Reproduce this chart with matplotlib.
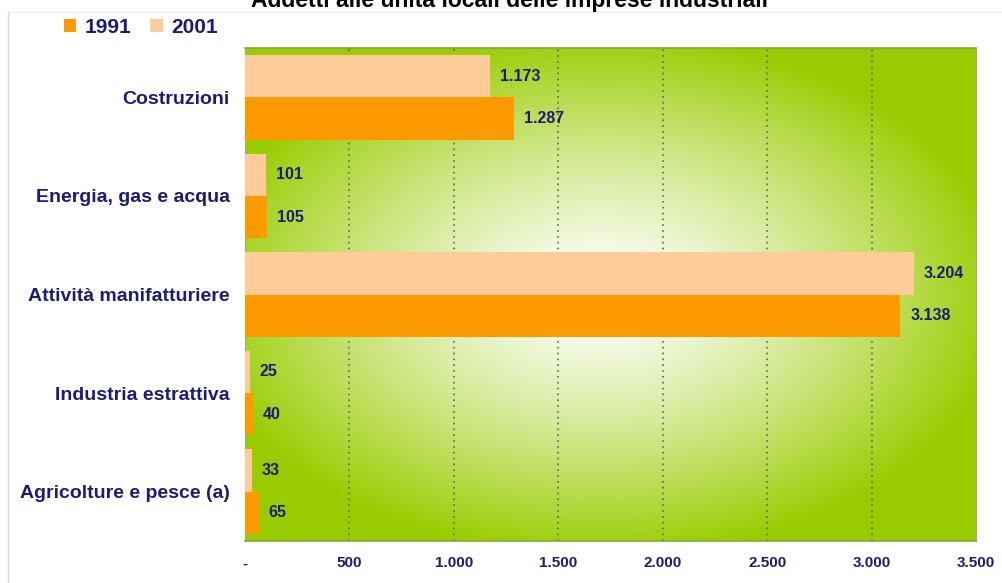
import numpy as np
import matplotlib
matplotlib.use("Agg")
import matplotlib.pyplot as plt
from matplotlib.patches import Patch
from matplotlib.lines import Line2D
from matplotlib.colors import to_rgb

plt.rcParams['font.family'] = ['Liberation Sans', 'DejaVu Sans']

categories = ["Costruzioni", "Energia, gas e acqua", "Attività manifatturiere",
              "Industria estrattiva", "Agricolture e pesce (a)"]
values_1991 = [1287, 105, 3138, 40, 65]
values_2001 = [1173, 101, 3204, 25, 33]
x_ticks = [0, 500, 1000, 1500, 2000, 2500, 3000, 3500]
x_tick_labels = ["-", "500", "1.000", "1.500", "2.000", "2.500", "3.000", "3.500"]

title = "Addetti alle unità locali delle imprese industriali"
c1991 = "#FF9900"
c2001 = "#FFCC99"
navy = "#1C1C78"
green = "#99CC00"

W, H = 1003, 583
fig = plt.figure(figsize=(W / 100, H / 100), dpi=100)
fig.patch.set_facecolor("white")

ax = fig.add_axes([245 / W, 1 - 541 / H, (976 - 245) / W, (541 - 48) / H])

# radial white-to-green backdrop
nx, ny = 400, 280
u = np.linspace(-1, 1, nx)
v = np.linspace(-1, 1, ny)
U, V = np.meshgrid(u, v)
r = np.sqrt((U + 0.03) ** 2 + (V * 1.05) ** 2)
t = np.clip(r / 1.12, 0, 1) ** 1.3
g = np.array(to_rgb(green))
img = (1 - t[..., None]) * np.ones(3) + t[..., None] * g
ax.imshow(img, extent=[0, 1, 0, 1], transform=ax.transAxes, aspect="auto",
          zorder=0, interpolation="bilinear")

y = np.arange(len(categories))
h = 0.43
b01 = ax.barh(y - h / 2, values_2001, height=h, color=c2001, zorder=3)
b91 = ax.barh(y + h / 2, values_1991, height=h, color=c1991, zorder=3)

def fmt(n):
    return f"{n:,}".replace(",", ".")

for bars, vals in ((b01, values_2001), (b91, values_1991)):
    for rect, val in zip(bars, vals):
        ax.annotate(fmt(val), (val, rect.get_y() + rect.get_height() / 2),
                    xytext=(7, 0), textcoords="offset points", va="center",
                    ha="left", fontsize=11.5, fontweight="bold", color=navy,
                    zorder=4)

ax.set_xlim(0, 3500)
ax.set_ylim(len(categories) - 0.5, -0.5)
ax.set_xticks(x_ticks)
ax.set_xticklabels(x_tick_labels)
ax.set_yticks(y)
ax.set_yticklabels(categories)
for lab in ax.get_xticklabels():
    lab.set_fontsize(11)
    lab.set_fontweight("bold")
    lab.set_color(navy)
for lab in ax.get_yticklabels():
    lab.set_fontsize(14)
    lab.set_fontweight("bold")
    lab.set_color(navy)
ax.tick_params(axis="x", length=0, pad=11)
ax.tick_params(axis="y", length=0, pad=11)

for xv in x_ticks[1:-1]:
    ax.axvline(xv, color="#5a6a5a", linestyle=(0, (1, 2.5)), linewidth=1.2,
               zorder=2)

for s in ("top", "bottom"):
    ax.spines[s].set_color("#88a830")
    ax.spines[s].set_linewidth(1.2)
for s in ("left", "right"):
    ax.spines[s].set_color("#a0b070")
    ax.spines[s].set_linewidth(0.8)

# legend
handles = [Patch(facecolor=c1991, edgecolor="none", label="1991"),
           Patch(facecolor=c2001, edgecolor="none", label="2001")]
leg = fig.legend(handles=handles, loc="upper left",
                 bbox_to_anchor=(64 / W, 1 - 18 / H), ncol=2, frameon=False,
                 handlelength=0.6, handleheight=0.6, handletextpad=0.4,
                 columnspacing=0.9, borderaxespad=0, borderpad=0,
                 prop={"size": 15, "weight": "bold"})
for txt in leg.get_texts():
    txt.set_color(navy)

# outer frame lines
fig.add_artist(Line2D([8 / W, 8 / W], [1 - 12 / H, 0], transform=fig.transFigure,
                      color="#d8d8e6", linewidth=1))
fig.add_artist(Line2D([8 / W, 1], [1 - 12 / H, 1 - 12 / H],
                      transform=fig.transFigure, color="#ececf2", linewidth=1))

fig.text(510 / W, 1 - 7 / H, title, ha="center", va="baseline", fontsize=16.5,
         fontweight="bold", color="black")

fig.savefig("out.png", dpi=100, facecolor="white")
